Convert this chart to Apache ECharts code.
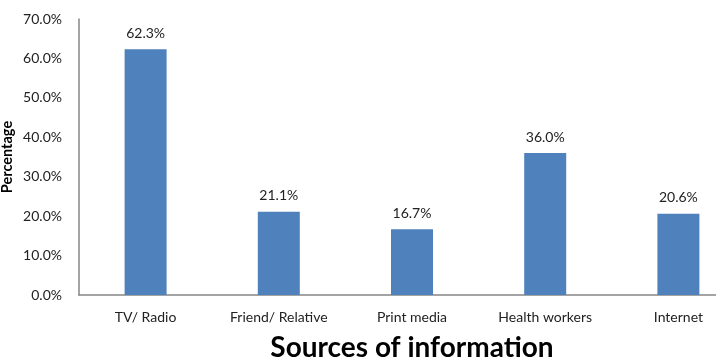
<!DOCTYPE html>
<html>
<head>
<meta charset="utf-8">
<script src="https://cdn.jsdelivr.net/npm/echarts@6/dist/echarts.min.js"></script>
<style>
  html, body { margin: 0; padding: 0; background: #fff; }
</style>
</head>
<body>
<div id="main" style="width: 716px;height:361px;"></div>
<script>
// data
const categories = ['TV/ Radio', 'Friend/ Relative', 'Print media', 'Health workers', 'Internet']
const percentages = [62.3, 21.1, 16.7, 36.0, 20.6]

const myChart = echarts.init(document.getElementById('main'))

const option = {
  textStyle: { fontFamily: 'Lato' },
  grid: {
    left: 79,
    top: 19,
    right: -29,
    bottom: 66,
    containLabel: false,
    outerBoundsMode: 'none'
  },
  xAxis: {
    type: 'category',
    data: categories,
    name: 'Sources of information',
    nameLocation: 'middle',
    nameGap: 39,
    nameMoveOverlap: false,
    nameTextStyle: { fontSize: 28, fontWeight: 'bold', color: '#000', fontFamily: 'Lato' },
    axisLine: { lineStyle: { color: '#868686', width: 1.5 } },
    axisTick: { show: false },
    axisLabel: { interval: 0, fontSize: 14, color: '#222', margin: 15 }
  },
  yAxis: {
    type: 'value',
    min: 0,
    max: 70,
    interval: 10,
    name: 'Percentage',
    nameLocation: 'middle',
    nameGap: 64,
    nameMoveOverlap: false,
    nameTextStyle: { fontSize: 14.5, fontWeight: 'bold', color: '#000' },
    axisLine: { show: true, lineStyle: { color: '#868686', width: 1.5 } },
    axisTick: { show: false },
    splitLine: { show: false },
    axisLabel: {
      fontSize: 14,
      color: '#222',
      margin: 17,
      formatter: function (v) { return v.toFixed(1) + '%' }
    }
  },
  series: [{
    type: 'bar',
    data: percentages,
    barWidth: 42,
    itemStyle: { color: '#4F81BD' },
    label: {
      show: true,
      position: 'top',
      distance: 9,
      fontSize: 14,
      color: '#222',
      formatter: function (p) { return p.value.toFixed(1) + '%' }
    }
  }]
}

myChart.setOption(option)
</script>
</body>
</html>
